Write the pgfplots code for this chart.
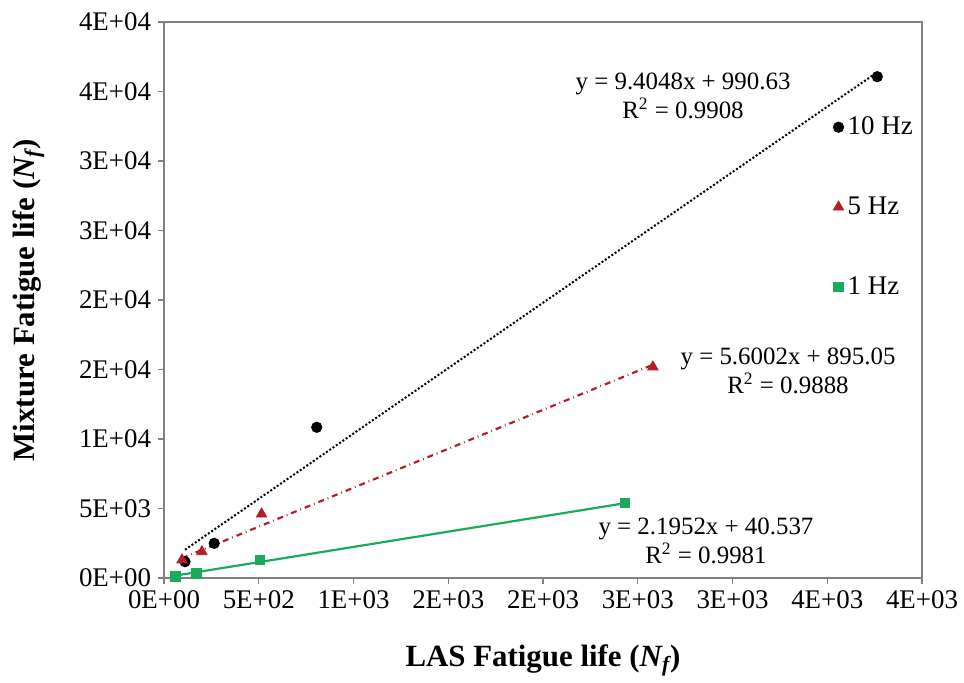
\documentclass[border=0pt]{standalone}
\usepackage{pgfplots}
\pgfplotsset{compat=1.18}
\usepackage{fontspec}
\setmainfont{Liberation Serif}
\definecolor{fivered}{RGB}{180,30,40}
\definecolor{onegreen}{RGB}{25,170,90}
\definecolor{axgray}{RGB}{128,128,128}
\begin{document}
\begin{tikzpicture}
\path[use as bounding box] (-82bp,-52.5bp) rectangle (400bp,289bp);
\begin{axis}[
  scale only axis,
  width=379bp, height=278bp,
  xmin=0, xmax=4000, ymin=0, ymax=40000,
  xtick={0,500,...,4000},
  xticklabels={0E+00,5E+02,1E+03,2E+03,2E+03,3E+03,3E+03,4E+03,4E+03},
  ytick={0,5000,...,40000},
  yticklabels={0E+00,5E+03,1E+04,2E+04,2E+04,3E+04,3E+04,4E+04,4E+04},
  scaled ticks=false,
  tick align=outside,
  major tick length=3bp,
  xtick pos=bottom, ytick pos=left,
  axis line style={axgray, line width=0.8pt},
  tick style={axgray, line width=0.6pt},
  tick label style={font=\fontsize{13.5}{15}\selectfont},
  xlabel={\textbf{LAS Fatigue life (\textit{N\textsubscript{f}})}},
  ylabel={\textbf{Mixture Fatigue life (\textit{N\textsubscript{f}})}},
  label style={font=\fontsize{15.5}{17}\selectfont},
  xlabel style={at={(axis description cs:0.5,-0.148)}, anchor=center},
  ylabel style={at={(axis description cs:-0.179,0.5)}, anchor=center},
  legend style={draw=none, fill=none, at={(axis cs:3530,33500)}, anchor=north west,
    font=\fontsize{13.5}{15}\selectfont, row sep=25.6bp, inner sep=0pt},
  legend cell align=left,
  legend image code/.code={\draw[#1] plot coordinates {(0.1cm,0cm)};},
]
% trendlines
\addplot[black, densely dotted, line width=1pt, forget plot] coordinates {(111,2035) (3764,36390)};
\addplot[fivered, dash dot, line width=1.1pt, forget plot] coordinates {(95,1427) (2580,15343)};
\addplot[onegreen, solid, line width=1.1pt, forget plot] coordinates {(60,172) (2433,5382)};
% data
\addplot[only marks, mark=*, mark size=2.6bp, black] coordinates {(111,1173) (265,2496) (806,10842) (3764,36065)};
\addlegendentry{10 Hz}
\addplot[only marks, mark=triangle*, mark size=3bp, fivered] coordinates {(95,1300) (200,1892) (515,4604) (2580,15180)};
\addlegendentry{5 Hz}
\addplot[only marks, mark=square*, mark size=2.4bp, onegreen] coordinates {(60,120) (170,330) (507,1295) (2433,5396)};
\addlegendentry{1 Hz}
\node[font=\fontsize{12.5}{14.5}\selectfont, align=center] at (axis cs:2739,34700) {y = 9.4048x + 990.63\\R\textsuperscript{2} = 0.9908};
\node[font=\fontsize{12.5}{14.5}\selectfont, align=center] at (axis cs:3293,14930) {y = 5.6002x + 895.05\\R\textsuperscript{2} = 0.9888};
\node[font=\fontsize{12.5}{14.5}\selectfont, align=center] at (axis cs:2860,2700) {y = 2.1952x + 40.537\\R\textsuperscript{2} = 0.9981};
\end{axis}
\end{tikzpicture}
\end{document}
